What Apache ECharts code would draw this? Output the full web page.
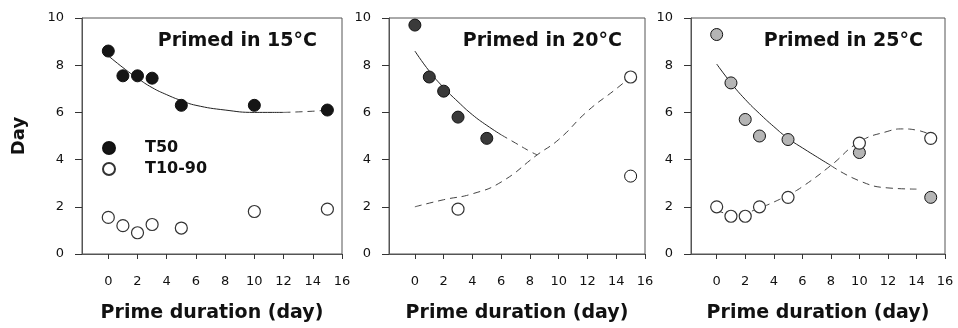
<!DOCTYPE html>
<html>
<head>
<meta charset="utf-8">
<script src="https://cdn.jsdelivr.net/npm/echarts@6/dist/echarts.min.js"></script>
<style>
  html, body { margin: 0; padding: 0; background: #fff; }
  #chart { width: 958px; height: 328px; }
</style>
</head>
<body>
<div id="chart"></div>
<script>
// measured days
const primeDays = [0, 1, 2, 3, 5, 10, 15];
const xTicks = [0, 2, 4, 6, 8, 10, 12, 14, 16];
const yTicks = [0, 2, 4, 6, 8, 10];

// 15 °C
const t50At15 = [8.6, 7.55, 7.55, 7.45, 6.3, 6.3, 6.1];
const t1090At15 = [1.55, 1.2, 0.9, 1.25, 1.1, 1.8, 1.9];
const fitX15 = [0, 1, 2, 3, 4, 5, 6, 8, 10, 12, 14, 15];
const fitT50At15 = [8.4, 7.9, 7.45, 7.05, 6.75, 6.5, 6.3, 6.1, 6.0, 6.0, 6.05, 6.1];

// 20 °C
const t50At20 = [9.7, 7.5, 6.9, 5.8, 4.9, null, 3.3];
const t1090At20 = [null, null, null, 1.9, null, null, 7.5];
const fitX20T50 = [0, 1, 2, 3, 4, 5, 6, 7, 8, 8.5];
const fitT50At20 = [8.6, 7.75, 7.05, 6.45, 5.9, 5.45, 5.05, 4.7, 4.35, 4.2];
const fitX20T1090 = [0, 2, 4, 6, 8.5, 10, 12, 14, 15];
const fitT1090At20 = [2.0, 2.3, 2.55, 3.05, 4.2, 4.85, 6.05, 7.0, 7.5];

// 25 °C
const t50At25 = [9.3, 7.25, 5.7, 5.0, 4.85, 4.3, 2.4];
const t1090At25 = [2.0, 1.6, 1.6, 2.0, 2.4, 4.7, 4.9];
const fitX25T50 = [0, 1, 2, 3, 4, 5, 6, 8, 10, 12, 14];
const fitT50At25 = [8.05, 7.25, 6.55, 5.95, 5.4, 4.9, 4.5, 3.75, 3.1, 2.8, 2.75];
const fitX25T1090 = [0, 1, 2, 3, 4, 5, 6, 8, 10, 12, 13, 14, 15];
const fitT1090At25 = [1.85, 1.7, 1.75, 1.95, 2.2, 2.5, 2.85, 3.75, 4.75, 5.2, 5.3, 5.25, 5.05];

const FONT = 'DejaVu Sans';

const panels = [
  { title: 'Primed in 15°C', left: 82, width: 260, titleRight: 641, fill: '#151515',
    t50: t50At15, t1090: t1090At15,
    fits: [{ x: fitX15, y: fitT50At15, solidTo: 12 }] },
  { title: 'Primed in 20°C', left: 389, width: 256, titleRight: 336, fill: '#3a3a3a',
    t50: t50At20, t1090: t1090At20, openT50: [15],
    fits: [{ x: fitX20T50, y: fitT50At20, solidTo: 6 },
           { x: fitX20T1090, y: fitT1090At20, solidTo: -1 }] },
  { title: 'Primed in 25°C', left: 691, width: 254, titleRight: 35, fill: '#b5b5b5',
    t50: t50At25, t1090: t1090At25,
    fits: [{ x: fitX25T50, y: fitT50At25, solidTo: 8 },
           { x: fitX25T1090, y: fitT1090At25, solidTo: -1 }] }
];

const pairs = (xs, ys) => xs.map((x, i) => [x, ys[i]]).filter(p => p[1] != null);

const grid = [], xAxis = [], yAxis = [], series = [], title = [];

panels.forEach((p, i) => {
  grid.push({ left: p.left, top: 18, width: p.width, height: 237,
    show: true, borderColor: '#555', borderWidth: 1 });

  title.push({ text: p.title, right: p.titleRight, top: 32, padding: 0,
    textStyle: { fontFamily: FONT, fontSize: 19, fontWeight: 'bold', color: '#111' } });

  xAxis.push({
    gridIndex: i, type: 'value', min: -1.8, max: 16,
    name: 'Prime duration (day)', nameLocation: 'middle', nameGap: 50,
    nameTextStyle: { fontFamily: FONT, fontSize: 19, fontWeight: 'bold', color: '#111' },
    axisLine: { onZero: false, lineStyle: { color: '#555', width: 1 } },
    axisTick: { show: true, length: 5, customValues: xTicks, lineStyle: { color: '#333' } },
    axisLabel: { customValues: xTicks, margin: 21, fontFamily: FONT, fontSize: 13, color: '#111' },
    splitLine: { show: false }
  });

  yAxis.push({
    gridIndex: i, type: 'value', min: 0, max: 10, interval: 2,
    name: i === 0 ? 'Day' : '', nameLocation: 'middle', nameGap: 54, nameRotate: 90,
    nameTextStyle: { fontFamily: FONT, fontSize: 18, fontWeight: 'bold', color: '#111' },
    axisLine: { show: true, onZero: false, lineStyle: { color: '#555', width: 1 } },
    axisTick: { show: true, length: 7, lineStyle: { color: '#333' } },
    axisLabel: { margin: 18, fontFamily: FONT, fontSize: 13, color: '#111',
      formatter: v => (yTicks.includes(v) ? String(v) : '') },
    splitLine: { show: false }
  });

  // fitted curves, solid where the print is clear, dashed where it fades
  p.fits.forEach(f => {
    const pts = pairs(f.x, f.y);
    const solid = pts.filter(q => q[0] <= f.solidTo);
    const dashed = pts.filter(q => q[0] >= Math.max(f.solidTo, 0));
    if (solid.length > 1) {
      series.push({ type: 'line', name: 'fit', xAxisIndex: i, yAxisIndex: i, data: solid,
        smooth: true, symbol: 'none', silent: true, z: 1,
        lineStyle: { color: '#222', width: 1 } });
    }
    if (dashed.length > 1) {
      series.push({ type: 'line', name: 'fit', xAxisIndex: i, yAxisIndex: i, data: dashed,
        smooth: true, symbol: 'none', silent: true, z: 1,
        lineStyle: { color: '#444', width: 1, type: [7, 5] } });
    }
  });

  const open = p.openT50 || [];
  series.push({
    type: 'scatter', name: 'T50', xAxisIndex: i, yAxisIndex: i, z: 3,
    symbol: 'circle', symbolSize: 12,
    data: pairs(primeDays, p.t50).map(q => open.includes(q[0])
      ? { value: q, itemStyle: { color: '#fff' } } : q),
    itemStyle: { color: p.fill, borderColor: '#111', borderWidth: 1, opacity: 1 }
  });
  series.push({
    type: 'scatter', name: 'T10-90', xAxisIndex: i, yAxisIndex: i, z: 3,
    symbol: 'circle', symbolSize: 12,
    data: pairs(primeDays, p.t1090),
    itemStyle: { color: '#fff', borderColor: '#333', borderWidth: 1.2, opacity: 1 }
  });
});

const chart = echarts.init(document.getElementById('chart'), null, { renderer: 'canvas' });
chart.setOption({
  animation: false,
  backgroundColor: '#fff',
  title,
  legend: {
    data: ['T50', 'T10-90'], orient: 'vertical', left: 97, top: 135,
    icon: 'circle', itemWidth: 12, itemHeight: 12, itemGap: 5,
    selectedMode: false,
    textStyle: { fontFamily: FONT, fontSize: 16, fontWeight: 'bold', color: '#111',
      padding: [0, 0, 0, 25] }
  },
  grid, xAxis, yAxis, series
});
</script>
</body>
</html>
